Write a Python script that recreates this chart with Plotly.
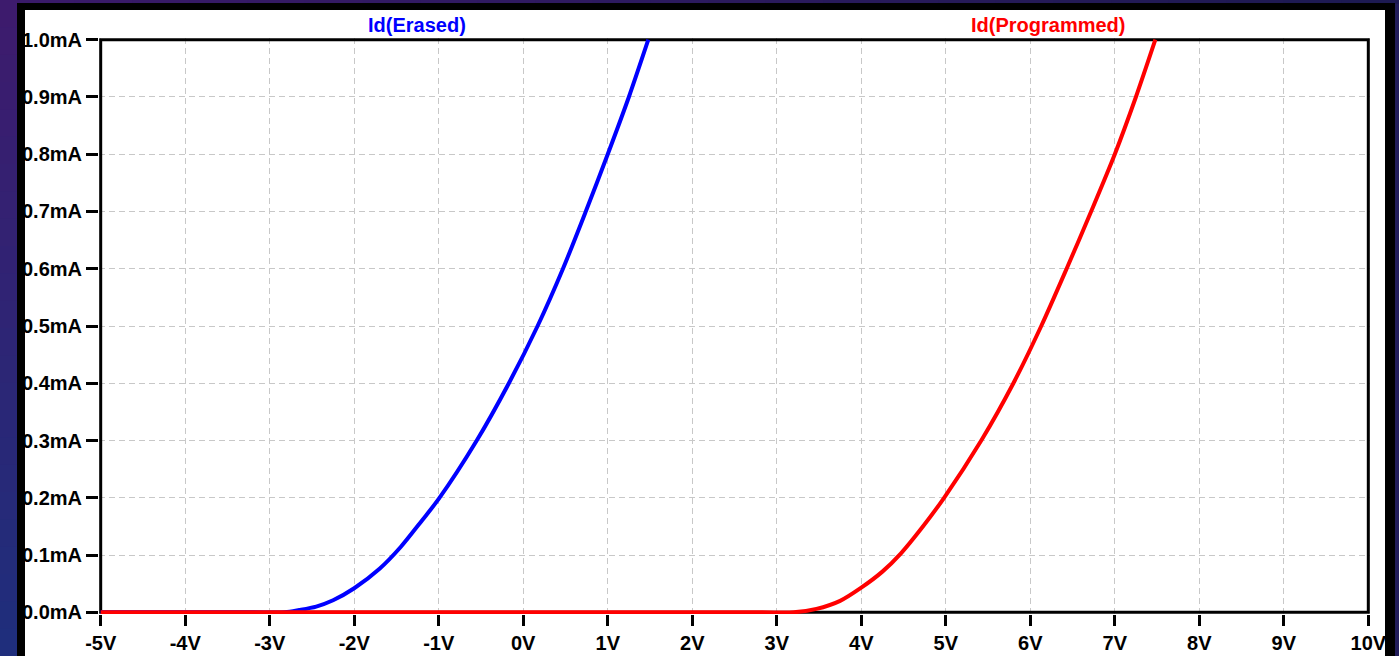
import plotly.graph_objects as go

# ---- data (V in volts, I in mA) ----
v_erased = [-5.0, -3.2, -2.82, -2.65, -2.45, -2.25, -2.0, -1.7, -1.45, -1.2, -1.0, -0.55, -0.17, 0.17, 0.47, 0.74, 1.0, 1.25, 1.48]
i_erased = [0.0, 0.0, 0.0, 0.004, 0.010, 0.021, 0.042, 0.076, 0.114, 0.16, 0.198, 0.3, 0.4, 0.5, 0.6, 0.7, 0.8, 0.9, 1.0]

v_prog = [-5.0, 2.8, 3.2, 3.47, 3.75, 4.0, 4.25, 4.47, 4.72, 4.98, 5.42, 5.8, 6.13, 6.43, 6.72, 7.0, 7.25, 7.48]
i_prog = [0.0, 0.0, 0.0, 0.006, 0.02, 0.043, 0.071, 0.103, 0.148, 0.2, 0.3, 0.4, 0.5, 0.6, 0.7, 0.8, 0.9, 1.0]

x_ticks = list(range(-5, 11))
x_ticktext = [f"{v}V" for v in x_ticks]
y_ticks = [round(0.1 * k, 1) for k in range(11)]
y_ticktext = [f"{v:.1f}mA" for v in y_ticks]

series_names = ["Id(Erased)", "Id(Programmed)"]
series_colors = ["#0000FF", "#FF0000"]
label_x = [-1.26, 6.21]

W, H = 1399, 656
L, R, T, B = 99, 29, 38, 42
PW, PH = W - L - R, H - T - B


def px(x):
    return (x - L) / PW


def py(y):
    return (H - B - y) / PH


def lerp(c1, c2, t):
    a = [int(c1[i:i + 2], 16) for i in (1, 3, 5)]
    b = [int(c2[i:i + 2], 16) for i in (1, 3, 5)]
    return "#" + "".join(f"{round(a[k] + (b[k] - a[k]) * t):02x}" for k in range(3))


fig = go.Figure()
fig.add_trace(go.Scatter(x=v_erased, y=i_erased, mode="lines", name=series_names[0],
                         line=dict(color=series_colors[0], width=4, shape="spline", smoothing=0.8)))
fig.add_trace(go.Scatter(x=v_prog, y=i_prog, mode="lines", name=series_names[1],
                         line=dict(color=series_colors[1], width=4, shape="spline", smoothing=0.8)))

shapes = []
# slide background gradients (left strip and top strip)
n = 24
for k in range(n):
    y0 = H * k / n
    y1 = H * (k + 1) / n
    shapes.append(dict(type="rect", xref="paper", yref="paper", layer="below",
                       x0=px(0), x1=px(18), y0=py(y1 + 1), y1=py(y0),
                       fillcolor=lerp("#3d1b6d", "#1f2e7c", k / (n - 1)), line=dict(width=0)))
for k in range(n):
    x0 = 17 + (W - 17) * k / n
    x1 = 17 + (W - 17) * (k + 1) / n
    shapes.append(dict(type="rect", xref="paper", yref="paper", layer="below",
                       x0=px(x0), x1=px(x1 + 1), y0=py(4), y1=py(0),
                       fillcolor=lerp("#3a1a6a", "#1d1a52", k / (n - 1)), line=dict(width=0)))
# black frame and white panel
shapes.append(dict(type="rect", xref="paper", yref="paper", layer="below",
                   x0=px(17), x1=px(1395), y0=py(H + 5), y1=py(3),
                   fillcolor="black", line=dict(width=0)))
shapes.append(dict(type="rect", xref="paper", yref="paper", layer="below",
                   x0=px(25), x1=px(1385), y0=py(H + 5), y1=py(10),
                   fillcolor="white", line=dict(width=0)))
# plot box
shapes.append(dict(type="rect", xref="x", yref="y", layer="between",
                   x0=x_ticks[0], x1=x_ticks[-1], y0=y_ticks[0], y1=y_ticks[-1],
                   line=dict(color="black", width=3), fillcolor="rgba(0,0,0,0)"))

annotations = []
for name, col, lx in zip(series_names, series_colors, label_x):
    annotations.append(dict(text=name, x=lx, xref="x", y=1 + 13 / PH, yref="paper",
                            xanchor="center", yanchor="middle", showarrow=False,
                            font=dict(family="Liberation Sans, Arial", size=20, color=col, weight="bold")))

tickfont = dict(family="Liberation Sans, Arial", size=20, color="black", weight="bold")

fig.update_layout(
    width=W, height=H,
    margin=dict(l=L, r=R, t=T, b=B, pad=0, autoexpand=False),
    paper_bgcolor="#221d5a",
    plot_bgcolor="white",
    showlegend=False,
    shapes=shapes,
    annotations=annotations,
    xaxis=dict(range=[-5.02, 10.02], tickmode="array", tickvals=x_ticks, ticktext=x_ticktext,
               showgrid=True, gridcolor="#c8c8c8", gridwidth=1, griddash="6px,4px",
               zeroline=False, showline=False, ticks="outside", ticklen=11, tickwidth=3,
               tickcolor="black", tickfont=tickfont, fixedrange=True, automargin=False),
    yaxis=dict(range=[-0.003, 1.003], tickmode="array", tickvals=y_ticks, ticktext=y_ticktext,
               showgrid=True, gridcolor="#c8c8c8", gridwidth=1, griddash="6px,4px",
               zeroline=False, showline=False, ticks="outside", ticklen=12, tickwidth=3,
               tickcolor="black", tickfont=tickfont, fixedrange=True, automargin=False),
)

fig.write_html("out.html", config={"displayModeBar": False},
               post_script="document.body.style.margin='0';document.body.style.overflow='hidden';")
